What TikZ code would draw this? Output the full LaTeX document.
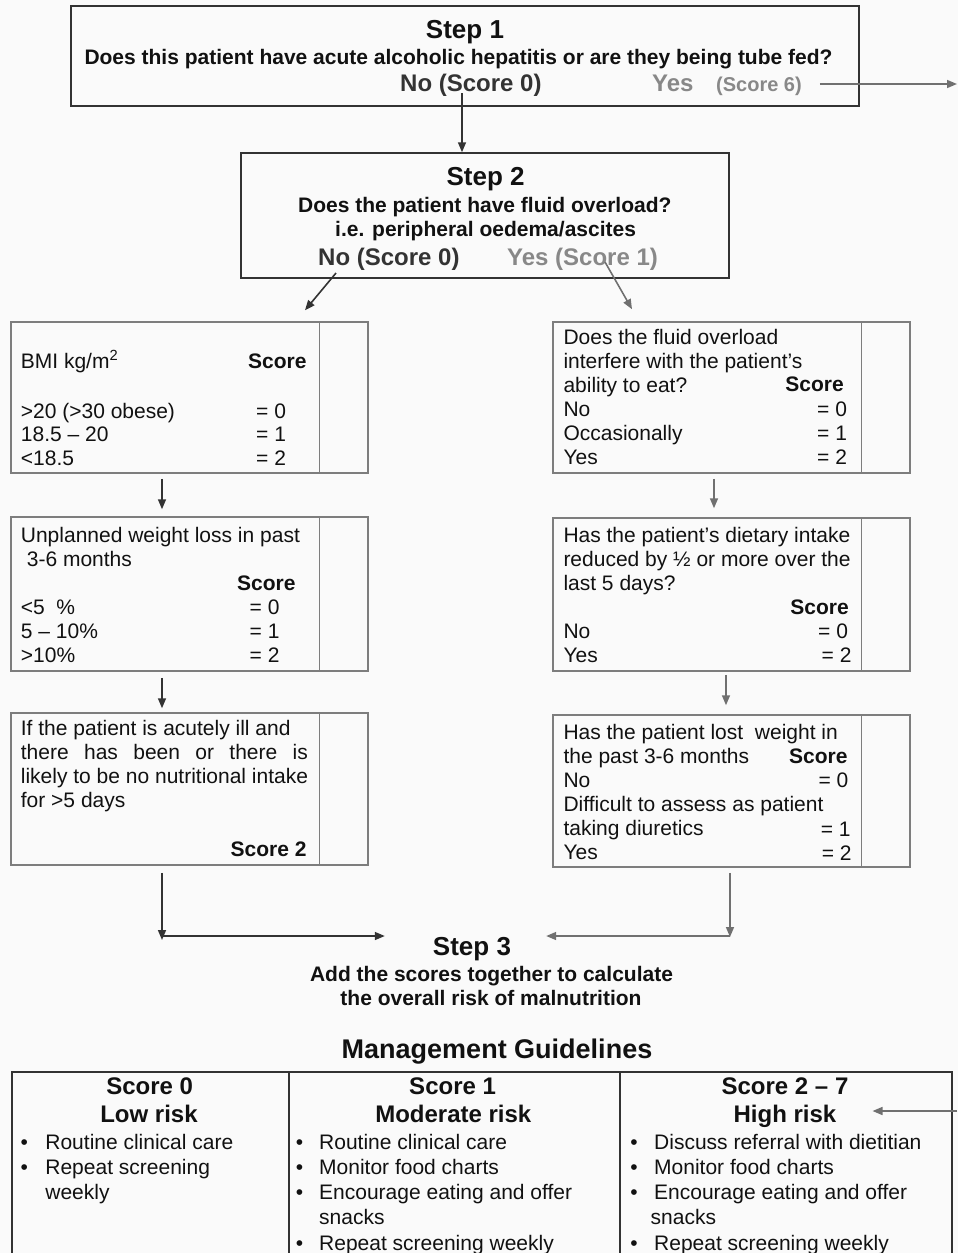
\documentclass[tikz,border=0pt]{standalone}
\usepackage{fontspec}
\setmainfont{Liberation Sans}
\usetikzlibrary{arrows.meta}
\definecolor{bgc}{RGB}{250,250,250}
\definecolor{dark}{RGB}{51,51,51}
\definecolor{txt}{RGB}{17,17,17}
\definecolor{grayans}{RGB}{136,136,136}
\definecolor{boxgray}{RGB}{125,125,125}
\definecolor{arrgray}{RGB}{112,112,112}
\begin{document}
\begin{tikzpicture}[x=1pt,y=-1pt,
  stepbox/.style={draw=dark, line width=1.5pt, inner sep=0pt},
  scorebox/.style={draw=boxgray, line width=1.5pt, inner sep=0pt, minimum width=357pt},
  rtxt/.style={inner sep=0pt, anchor=base west, text=txt, align=left, font=\fontsize{21}{24}\selectfont},
  btxt/.style={rtxt, font=\bfseries\fontsize{21}{24}\selectfont},
  htxt/.style={inner sep=0pt, anchor=base, text=txt, font=\bfseries\fontsize{26}{30}\selectfont},
  qtxt/.style={inner sep=0pt, anchor=base, text=txt, font=\bfseries\fontsize{21}{24}\selectfont},
  ans/.style={inner sep=0pt, anchor=base west, text=dark, font=\bfseries\fontsize{24}{28}\selectfont},
  hdr/.style={inner sep=0pt, anchor=base, text=txt, font=\bfseries\fontsize{24}{28}\selectfont},
  btl/.style={rtxt, font=\fontsize{21}{25.2}\selectfont},
  bul/.style={inner sep=0pt, anchor=base, text=txt, align=center, font=\fontsize{21}{25.2}\selectfont},
  arrd/.style={draw=dark, line width=1.6pt, -{Triangle[length=10pt,width=8pt]}},
  arrg/.style={draw=arrgray, line width=1.6pt, -{Triangle[length=10pt,width=8pt]}},
  divl/.style={draw=boxgray, line width=1.5pt}
]
\fill[bgc] (0,0) rectangle (958,1253);
\useasboundingbox (0,0) rectangle (958,1253);

% ---------- Step 1
\node[stepbox, minimum width=788pt, minimum height=100pt] (s1) at (465,56) {};
\node[htxt] (s1t) at (465,38) {Step 1};
\node[qtxt] (s1q) at (458.5,64) {Does this patient have acute alcoholic hepatitis or are they being tube fed?};
\node[ans] (s1no) at (400,91) {No (Score 0)};
\node[ans, text=grayans] (s1yes) at (652,91) {Yes};
\node[ans, text=grayans, font=\bfseries\fontsize{20}{24}\selectfont] (s1ys) at (716,91) {(Score 6)};
\coordinate (offR1) at (957,84);
\draw[arrg] ([xshift=18pt]s1ys.east |- offR1) -- (offR1);

% ---------- Step 2
\node[stepbox, minimum width=488pt, minimum height=125pt] (s2) at (485,215.5) {};
\node[htxt] (s2t) at (485.6,185) {Step 2};
\node[qtxt] (s2q) at (484.8,212) {Does the patient have fluid overload?};
\node[qtxt] (s2q2) at (485.6,236.5) {i.e. peripheral oedema/ascites};
\node[ans] (s2no) at (318,265) {No (Score 0)};
\node[ans, text=grayans] (s2yes) at (507,265) {Yes (Score 1)};

\coordinate (a1) at (462,93);
\draw[arrd] (a1) -- (a1 |- s2.north);

% ---------- Left boxes
\node[scorebox, minimum height=151pt] (L1) at (189.5,397.5) {};
\node[scorebox, minimum height=154pt] (L2) at (189.5,594) {};
\node[scorebox, minimum height=152pt] (L3) at (189.5,789) {};
% ---------- Right boxes
\node[scorebox, minimum height=151pt] (R1) at (731.5,397.5) {};
\node[scorebox, minimum height=153pt] (R2) at (731.5,594.5) {};
\node[scorebox, minimum height=152pt] (R3) at (731.5,791) {};
\foreach \b in {L1,L2,L3,R1,R2,R3}
  \draw[divl] ([xshift=309pt]\b.north west) -- ([xshift=309pt]\b.south west);

\coordinate (a2l) at (336,273);
\coordinate (a2r) at (605,262);
\draw[arrd] (a2l) -- ([xshift=115.5pt,yshift=11pt]L1.north);
\draw[arrg] (a2r) -- ([xshift=-99.5pt,yshift=12pt]R1.north);

% Left box texts (multi-line nodes: base = last line)
\node[rtxt] (L1a) at (20.7,368) {BMI kg/m\textsuperscript{2}};
\node[btxt, anchor=base east] (L1s) at (306.7,368) {Score};
\node[rtxt, font=\fontsize{21}{23.5}\selectfont] (L1b) at (20.7,465) {>20 (>30 obese)\\18.5 – 20\\<18.5};
\node[rtxt, font=\fontsize{21}{23.5}\selectfont] (L1c) at (256,465) {= 0\\= 1\\= 2};

\node[rtxt] (L2a) at (20.7,566.7) {Unplanned weight loss in past\\\hspace*{6pt}3-6 months};
\node[btxt] (L2s) at (237,590.7) {Score};
\node[rtxt] (L2b) at (20.7,662.7) {<5\ \ \%\\5 – 10\%\\>10\%};
\node[rtxt] (L2c) at (249.5,662.7) {= 0\\= 1\\= 2};

\node[rtxt] (L3a) at (20.7,807.5) {If the patient is acutely ill and\\\makebox[287pt][s]{there has been or there is}\\likely to be no nutritional intake\\for >5 days};
\node[btxt, anchor=base east] (L3s) at (306.7,856) {Score 2};

% Right box texts
\node[rtxt] (R1a) at (563.3,464.5) {Does the fluid overload\\interfere with the patient’s\\ability to eat?\\No\\Occasionally\\Yes};
\node[btxt, anchor=base east] (R1s) at (844,391.8) {Score};
\node[rtxt] (R1c) at (817,464) {= 0\\= 1\\= 2};

\node[rtxt] (R2a) at (563.3,590) {Has the patient’s dietary intake\\reduced by ½ or more over the\\last 5 days?};
\node[btxt, anchor=base east] (R2s) at (849,614) {Score};
\node[rtxt] (R2b) at (563.3,662) {No\\Yes};
\node[rtxt] (R2c) at (818,662) {= 0\\\hspace*{3.5pt}= 2};

\node[rtxt] (R3a) at (563.3,859.8) {Has the patient lost\ \ weight in\\the past 3-6 months\\No\\Difficult to assess as patient\\taking diuretics\\Yes};
\node[btxt, anchor=base east] (R3s) at (847.7,763.5) {Score};
\node[rtxt] (R3c0) at (818.3,787) {= 0};
\node[rtxt] (R3c1) at (820.7,836) {= 1};
\node[rtxt] (R3c2) at (821.7,860) {= 2};

% Arrows between boxes
\coordinate (xl) at (162,0);
\coordinate (xr1) at (714,0);
\coordinate (xr2) at (726,0);
\coordinate (xr3) at (730,0);
\draw[arrd, shorten <=5pt, shorten >=7pt] (L1.south -| xl) -- (L2.north -| xl);
\draw[arrd, shorten <=6pt, shorten >=4pt] (L2.south -| xl) -- (L3.north -| xl);
\draw[arrg, shorten <=5pt, shorten >=9pt] (R1.south -| xr1) -- (R2.north -| xr1);
\draw[arrg, shorten <=3pt, shorten >=9pt] (R2.south -| xr2) -- (R3.north -| xr2);

% ---------- Step 3
\node[htxt] (s3) at (472,955) {Step 3};
\node[qtxt] (s3a) at (491.5,981.7) {Add the scores together to calculate};
\node[qtxt] (s3b) at (491,1005) {the overall risk of malnutrition};

\coordinate (jl) at (162,936);
\coordinate (jr) at (730,936);
\draw[arrd, shorten <=7pt] (L3.south -| xl) -- ([yshift=-4pt]jl);
\draw[arrd, shorten >=48pt] (jl) -- (jl -| s3.west);
\draw[arrg, shorten <=5pt] (R3.south -| xr3) -- ([yshift=-1pt]jr);
\draw[arrg, shorten >=35pt] (jr) -- (jr -| s3.east);

% ---------- Management guidelines
\node[inner sep=0pt, anchor=base, text=txt, font=\bfseries\fontsize{27}{32}\selectfont] (mg) at (497,1058.3) {Management Guidelines};
\node[draw=dark, line width=1.5pt, minimum width=940pt, minimum height=220pt, anchor=north west, inner sep=0pt] (tab) at (11,1071) {};
\draw[draw=dark, line width=1.5pt] ([xshift=278pt]tab.north west) -- ([xshift=278pt]tab.south west);
\draw[draw=dark, line width=1.5pt] ([xshift=609pt]tab.north west) -- ([xshift=609pt]tab.south west);

\node[hdr] (h0a) at (149.7,1094.3) {Score 0};
\node[hdr] (h0b) at (149,1122.3) {Low risk};
\node[hdr] (h1a) at (452.6,1094.3) {Score 1};
\node[hdr] (h1b) at (453.3,1122.3) {Moderate risk};
\node[hdr] (h2a) at (785,1094.3) {Score 2 – 7};
\node[hdr] (h2b) at (785,1122.3) {High risk};

\coordinate (offR2) at (957,1111);
\draw[arrg] (offR2) -- ([xshift=36pt]h2b.east |- offR2);

\node[btl] (c1) at (45.2,1199.7) {Routine clinical care\\Repeat screening\\weekly};
\node[bul] (c1b) at (24.4,1174.5) {•\\•};
\node[btl] (c2) at (319,1250.1) {Routine clinical care\\Monitor food charts\\Encourage eating and offer\\snacks\\Repeat screening weekly};
\node[bul] (c2b) at (299.5,1250.1) {•\\•\\•\\\strut\\•};
\node[btl] (c3) at (654,1250.1) {Discuss referral with dietitian\\Monitor food charts\\Encourage eating and offer\\\hspace*{-3.5pt}snacks\\Repeat screening weekly};
\node[bul] (c3b) at (634,1250.1) {•\\•\\•\\\strut\\•};
\end{tikzpicture}
\end{document}
